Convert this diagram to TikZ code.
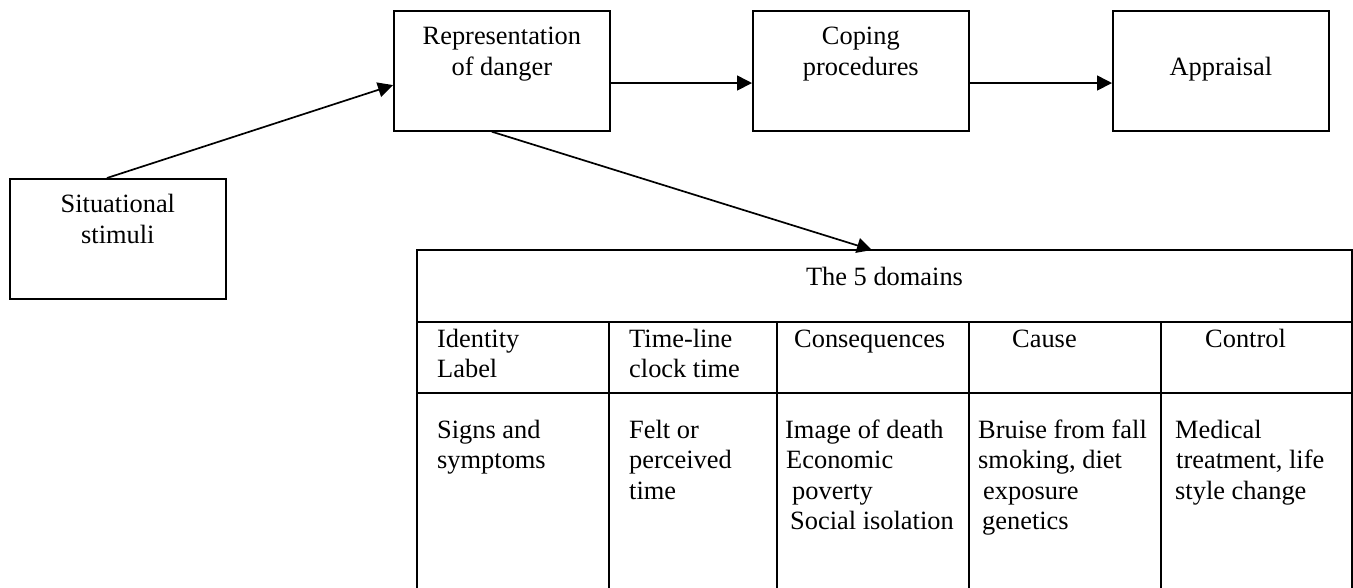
\documentclass[tikz,border=0pt]{standalone}
\usepackage{fontspec}
\setmainfont{Liberation Serif}
\usetikzlibrary{arrows.meta,calc}
\begin{document}
\begin{tikzpicture}[x=1pt,y=-1pt,
  stagebox/.style={draw, line width=1.7pt, minimum width=216pt, minimum height=120pt,
    inner sep=0pt, anchor=north west},
  lbl/.style={inner sep=0pt, font=\fontsize{26.4}{30.5}\selectfont},
  flow/.style={-{Triangle[length=15pt,width=15pt]}, line width=1.7pt},
  rule/.style={line width=1.7pt}
]
\useasboundingbox (0,0) rectangle (1353,588);

% stage boxes
\node[stagebox] (sit)  at (9,178)  {};
\node[stagebox] (rep)  at (393,10) {};
\node[stagebox] (cope) at (752,10) {};
\node[stagebox] (appr) at (1112,10) {};

% stage captions (top-aligned inside the boxes)
\node[lbl, anchor=base] (sitT)  at ([yshift=-35pt]sit.north)
  {\begin{tabular}[t]{@{}c@{}}Situational\\stimuli\end{tabular}};
\node[lbl, anchor=base] (repT)  at ([yshift=-35pt]rep.north)
  {\begin{tabular}[t]{@{}c@{}}Representation\\of danger\end{tabular}};
\node[lbl, anchor=base] (copeT) at ([yshift=-35pt]cope.north)
  {\begin{tabular}[t]{@{}c@{}}Coping\\procedures\end{tabular}};
\node[lbl, anchor=base] (apprT) at ([yshift=-66pt]appr.north) {Appraisal};

% domain table frame (open at the bottom)
\coordinate (tNW) at (417,250);
\coordinate (tNE) at (1352,250);
\coordinate (tSW) at (417,588);
\coordinate (tSE) at (1352,588);
\draw[rule] (tSW) -- (tNW) -- (tNE) -- (tSE);
\draw[rule] (417,322) -- (1352,322);
\draw[rule] (417,393) -- (1352,393);
\foreach \cx in {609,777,969,1161}
  \draw[rule] (\cx,322) -- (\cx,588);

% table title
\node[lbl, anchor=base] (title) at (884.5,286) {The 5 domains};

% column headings
\node[lbl, anchor=base west] (h1) at (437,347)
  {\begin{tabular}[t]{@{}l@{}}Identity\\Label\end{tabular}};
\node[lbl, anchor=base west] (h2) at (629,347)
  {\begin{tabular}[t]{@{}l@{}}Time-line\\clock time\end{tabular}};
\node[lbl, anchor=base west] (h3) at (794,347) {Consequences};
\node[lbl, anchor=base west] (h4) at (1012,347) {Cause};
\node[lbl, anchor=base west] (h5) at (1205,347) {Control};

% column contents
\node[lbl, anchor=base west] (b1) at (437,438)
  {\begin{tabular}[t]{@{}l@{}}Signs and\\symptoms\end{tabular}};
\node[lbl, anchor=base west] (b2) at (629,438)
  {\begin{tabular}[t]{@{}l@{}}Felt or\\perceived\\time\end{tabular}};
\node[lbl, anchor=base west] (b3) at (785,438)
  {\begin{tabular}[t]{@{}l@{}}Image of death\\\hspace*{1pt}Economic\\\hspace*{7pt}poverty\\\hspace*{5pt}Social isolation\end{tabular}};
\node[lbl, anchor=base west] (b4) at (978,438)
  {\begin{tabular}[t]{@{}l@{}}Bruise from fall\\smoking, diet\\\hspace*{5pt}exposure\\\hspace*{4pt}genetics\end{tabular}};
\node[lbl, anchor=base west] (b5) at (1175,438)
  {\begin{tabular}[t]{@{}l@{}}Medical\\\hspace*{1pt}treatment, life\\style change\end{tabular}};

% connectors
\draw[flow] ($(sit.north west)!0.45!(sit.north east)$) -- ($(rep.north west)!0.617!(rep.south west)$);
\draw[flow] ($(rep.north east)!0.6!(rep.south east)$) -- ($(cope.north west)!0.6!(cope.south west)$);
\draw[flow] ($(cope.north east)!0.6!(cope.south east)$) -- ($(appr.north west)!0.6!(appr.south west)$);
\draw[flow] ($(rep.south west)!0.454!(rep.south east)$) -- ($(tNW)!0.4866!(tNE)$);
\end{tikzpicture}
\end{document}
